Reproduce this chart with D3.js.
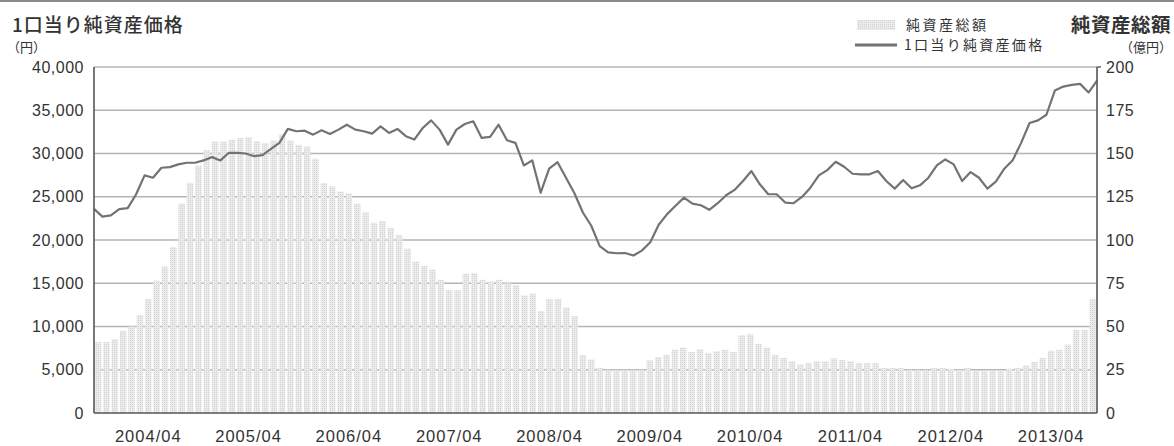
<!DOCTYPE html>
<html><head><meta charset="utf-8">
<script src="https://cdn.jsdelivr.net/npm/d3@7"></script>
<style>
html,body{margin:0;padding:0;background:#fff;}
svg{display:block;}
.num{font-family:"Liberation Sans",Arial,sans-serif;fill:#333;}
.jp{font-family:"Noto Sans CJK JP",sans-serif;fill:#333;}
</style></head>
<body>
<svg id="c" width="1174" height="446"></svg>
<script>
// Monthly categories: 2003/10 .. 2013/09 (120 months)
const startYear = 2003, startMonth = 10, monthCount = 120;
const months = [];
for (let k = 0; k < monthCount; k++) {
  const m = (startMonth - 1 + k) % 12 + 1, y = startYear + Math.floor((startMonth - 1 + k) / 12);
  months.push(y + "/" + String(m).padStart(2, "0"));
}
const xTickLabels = ["2004/04","2005/04","2006/04","2007/04","2008/04","2009/04","2010/04","2011/04","2012/04","2013/04"];
const leftTicks = [0,5000,10000,15000,20000,25000,30000,35000,40000];
const rightTicks = [0,25,50,75,100,125,150,175,200];

// 純資産総額 (億円)
const netAssets = [
  41,41,42.7,47.6,50,56.7,66,76.5,84.7,96,
  121,133,143,152,157,157,158,159,159.5,157,
  156,157.5,161,157.5,155,154,147,133,131,128,
  127,121,116,110,111,107,103,95,87.5,85,
  83,77,71,71,80.5,81,77,76,77,75,
  74,68,69,59,66,66,61,56,33.5,31,
  26,25,25,25,25,25,30.4,32.4,33.7,36.6,
  37.8,35.3,36.8,34.7,35.7,36.6,35.3,45,45.5,40,
  37.8,33.7,31.8,30,28,29,30,30,31.6,30.6,
  30,29,29,29,26,26,26,25,25,25,
  26,26,25.5,25,26,24.6,24.2,24.6,24.6,25.6,
  26,27.5,29.5,31.8,36,36.6,39.5,48,48,66
];
// 1口当り純資産価格 (円)
const navPerUnit = [
  23600,22700,22850,23560,23680,25290,27470,27200,28350,28430,
  28740,28930,28930,29200,29580,29200,30080,30080,30000,29690,
  29810,30540,31230,32840,32570,32640,32180,32680,32260,32760,
  33330,32760,32570,32300,33140,32380,32840,32000,31610,32950,
  33830,32760,31030,32760,33410,33720,31800,31920,33330,31530,
  31230,28620,29200,25480,28240,29000,27200,25400,23180,21650,
  19300,18580,18470,18500,18200,18770,19730,21760,22990,23950,
  24900,24210,24020,23490,24250,25170,25790,26820,27970,26440,
  25290,25290,24330,24250,24980,26050,27470,28080,29040,28470,
  27660,27590,27590,27970,26820,25940,26930,25980,26320,27200,
  28620,29310,28740,26820,27850,27200,25940,26740,28240,29230,
  31230,33520,33830,34480,37280,37740,37930,38050,37050,38430
];

const svg = d3.select("#c");
const X0 = 94, X1 = 1097, YT = 67, YB = 413;

const defs = svg.append("defs");
const pat = defs.append("pattern").attr("id","dots").attr("patternUnits","userSpaceOnUse")
  .attr("width",2).attr("height",2);
pat.append("rect").attr("width",2).attr("height",2).attr("fill","#ebebeb");
pat.append("rect").attr("width",1).attr("height",1).attr("fill","#d3d3d3");

const xBand = d3.scaleBand().domain(months).range([X0, X1]).paddingInner(0.22).paddingOuter(0.1);
const xPt = d3.scalePoint().domain(months).range([X0, X1]).padding(0);
const yL = d3.scaleLinear().domain([0, 40000]).range([YB, YT]);
const yR = d3.scaleLinear().domain([0, 200]).range([YB, YT]);

// top border
svg.append("line").attr("x1",0).attr("x2",1174).attr("y1",1).attr("y2",1)
  .attr("stroke","#8a8a8a").attr("stroke-width",2);

// gridlines
svg.append("g").selectAll("line").data(leftTicks.filter(d => d > 0)).join("line")
  .attr("x1", X0).attr("x2", X1).attr("y1", d => yL(d)).attr("y2", d => yL(d))
  .attr("stroke", "#b4b4b4").attr("stroke-width", 1.5);

// bars
svg.append("g").selectAll("rect").data(netAssets).join("rect")
  .attr("x", (d, i) => xBand(months[i])).attr("width", xBand.bandwidth())
  .attr("y", d => yR(d)).attr("height", d => YB - yR(d))
  .attr("fill", "url(#dots)");

// line
const line = d3.line().x((d, i) => xPt(months[i])).y(d => yL(d));
svg.append("path").datum(navPerUnit).attr("d", line)
  .attr("fill", "none").attr("stroke", "#737373").attr("stroke-width", 2.2).attr("stroke-linejoin","round");

// axes
const axL = d3.axisLeft(yL).tickValues(leftTicks).tickSize(0).tickPadding(10).tickFormat(d3.format(","));
const gL = svg.append("g").attr("transform", `translate(${X0},0)`).call(axL);
const axR = d3.axisRight(yR).tickValues(rightTicks).tickSize(0).tickPadding(9).tickFormat(d3.format("d"));
const gR = svg.append("g").attr("transform", `translate(${X1},0)`).call(axR);
const axB = d3.axisBottom(xBand).tickValues(xTickLabels).tickSize(0).tickPadding(17);
const gB = svg.append("g").attr("transform", `translate(0,${YB})`).call(axB);
[gL, gR, gB].forEach(g => {
  g.select(".domain").attr("stroke", "#555").attr("stroke-width", 1.6);
  g.selectAll("text").attr("class","num").attr("font-size", 16).attr("fill","#2e2e2e")
    .style("letter-spacing","0.5px");
});
gB.selectAll("text").attr("font-size", 16.5).style("letter-spacing","1px");
gB.select(".domain").attr("d", `M${X0},0H${X1}`);
gL.select(".domain").attr("d", `M0,${YB}V${YT}`);
gR.select(".domain").attr("d", `M0,${YB}V${YT}`);
// small outer tick at top right
svg.append("line").attr("x1", X1).attr("x2", X1 + 4).attr("y1", yR(200)).attr("y2", yR(200))
  .attr("stroke","#555").attr("stroke-width",1.4);

// titles
svg.append("text").attr("class","jp").attr("x", 12).attr("y", 32).attr("font-size", 19)
  .attr("font-weight", 500).style("letter-spacing","1px").text("1口当り純資産価格");
svg.append("text").attr("class","jp").attr("x", 7).attr("y", 52).attr("font-size", 13).text("（円）");
svg.append("text").attr("class","jp").attr("x", 1171).attr("y", 32).attr("font-size", 19.5)
  .attr("text-anchor","end").attr("font-weight", 700).style("letter-spacing","0.5px").text("純資産総額");
svg.append("text").attr("class","jp").attr("x", 1172).attr("y", 52).attr("font-size", 13)
  .attr("text-anchor","end").text("（億円）");

// legend
svg.append("rect").attr("x", 857).attr("y", 20).attr("width", 38).attr("height", 10).attr("fill","url(#dots)");
svg.append("text").attr("class","jp").attr("x", 906).attr("y", 30).attr("font-size", 14)
  .style("letter-spacing","2.5px").text("純資産総額");
svg.append("line").attr("x1", 855).attr("x2", 897).attr("y1", 45).attr("y2", 45)
  .attr("stroke","#737373").attr("stroke-width",3.2);
svg.append("text").attr("class","jp").attr("x", 904).attr("y", 50).attr("font-size", 14)
  .style("letter-spacing","2.3px").text("1口当り純資産価格");
</script>
</body></html>
